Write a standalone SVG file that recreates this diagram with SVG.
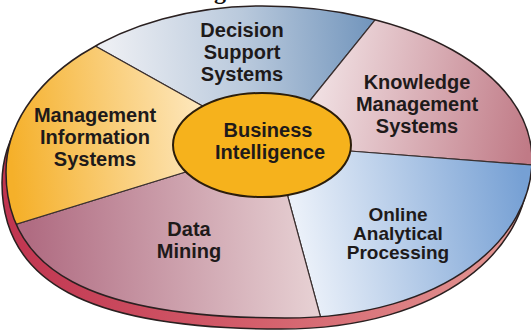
<svg xmlns="http://www.w3.org/2000/svg" width="531" height="332" viewBox="0 0 531 332">
<style>
.lbl{font-family:"Liberation Sans",Arial,sans-serif;font-weight:bold;font-size:20px;fill:#1e1a1a;text-anchor:middle}
.sm{font-size:19px}
.seg{stroke:#3a3030;stroke-width:1.2;stroke-linejoin:round}
</style>
<defs>
<path id="face" d="M6,172 C6,80 121,6 262,6 C410,6 532,72 532,160 C532,235 450,318 285,318 C90,318 6,270 6,172 Z"/>
<clipPath id="faceClip"><use href="#face"/></clipPath>
<linearGradient id="gRim" gradientUnits="userSpaceOnUse" x1="0" y1="0" x2="531" y2="0">
<stop offset="0" stop-color="#c0334f"/><stop offset="0.5" stop-color="#d4606c"/><stop offset="1" stop-color="#e39a96"/>
</linearGradient>
<linearGradient id="gDss" gradientUnits="userSpaceOnUse" x1="110" y1="60" x2="380" y2="40">
<stop offset="0" stop-color="#eceef3"/><stop offset="0.5" stop-color="#b9c9dc"/><stop offset="1" stop-color="#6f93bb"/>
</linearGradient>
<linearGradient id="gKm" gradientUnits="userSpaceOnUse" x1="320" y1="100" x2="530" y2="140">
<stop offset="0" stop-color="#efdde0"/><stop offset="1" stop-color="#c07a86"/>
</linearGradient>
<linearGradient id="gMis" gradientUnits="userSpaceOnUse" x1="10" y1="150" x2="200" y2="130">
<stop offset="0" stop-color="#f5b02a"/><stop offset="1" stop-color="#fde6ba"/>
</linearGradient>
<linearGradient id="gDm" gradientUnits="userSpaceOnUse" x1="30" y1="250" x2="310" y2="240">
<stop offset="0" stop-color="#b06c82"/><stop offset="1" stop-color="#e6cfd2"/>
</linearGradient>
<linearGradient id="gOlap" gradientUnits="userSpaceOnUse" x1="300" y1="230" x2="525" y2="190">
<stop offset="0" stop-color="#eaf0f9"/><stop offset="1" stop-color="#76a0d4"/>
</linearGradient>
</defs>

<text x="220" y="-1" style="font-family:'Liberation Serif','Times New Roman',serif;font-weight:bold;font-size:24px;fill:#111;text-anchor:middle">g</text>

<g id="disc">
<use href="#face" transform="translate(-4,11)" fill="url(#gRim)" stroke="#2a2020" stroke-width="1.5"/>
</g>

<g id="segments" clip-path="url(#faceClip)">
<g id="dss"><polygon class="seg" fill="url(#gDss)" points="262,145 215,113 -139,-85 450,-73 300,113"/></g>
<g id="km"><polygon class="seg" fill="url(#gKm)" points="262,145 300,113 450,-73 734,-73 734,180.5 330,149.5"/></g>
<g id="olap"><polygon class="seg" fill="url(#gOlap)" points="262,145 330,149.5 734,180.5 734,455 358,455 282,175"/></g>
<g id="dm"><polygon class="seg" fill="url(#gDm)" points="262,145 282,175 358,455 -151,455 -151,276 205,166"/></g>
<g id="mis"><polygon class="seg" fill="url(#gMis)" points="262,145 205,166 -151,276 -151,-85 -139,-85 215,113"/></g>
</g>
<use href="#face" fill="none" stroke="#2a2020" stroke-width="1.5"/>

<g id="bi">
<ellipse cx="262" cy="145" rx="89" ry="52" fill="#f6b21c" stroke="#2b1d0a" stroke-width="2"/>
<text class="lbl" x="268" y="137">Business</text>
<text class="lbl" x="270" y="159">Intelligence</text>
</g>

<g id="labels">
<text class="lbl" x="242" y="37">Decision</text>
<text class="lbl" x="242" y="59">Support</text>
<text class="lbl" x="242" y="81">Systems</text>
<text class="lbl" x="417" y="89">Knowledge</text>
<text class="lbl" x="417" y="111">Management</text>
<text class="lbl" x="417" y="133">Systems</text>
<text class="lbl" x="95" y="122">Management</text>
<text class="lbl" x="95" y="144">Information</text>
<text class="lbl" x="95" y="166">Systems</text>
<text class="lbl" x="189" y="236">Data</text>
<text class="lbl" x="189" y="258">Mining</text>
<text class="lbl sm" x="398" y="221">Online</text>
<text class="lbl sm" x="398" y="240">Analytical</text>
<text class="lbl sm" x="398" y="259">Processing</text>
</g>
</svg>
